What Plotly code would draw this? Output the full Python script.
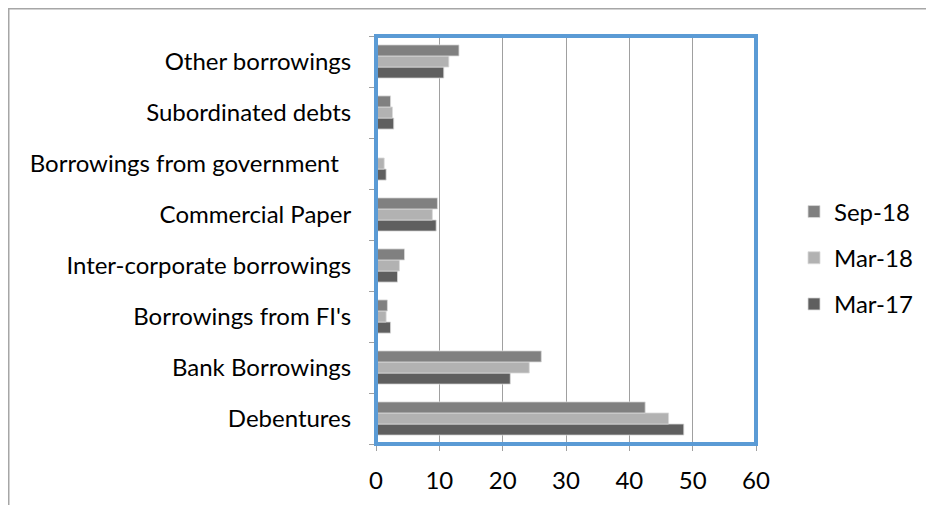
import plotly.graph_objects as go

categories = ["Debentures", "Bank Borrowings", "Borrowings from FI's",
              "Inter-corporate borrowings", "Commercial Paper",
              "Borrowings from government\u00a0\u00a0", "Subordinated debts", "Other borrowings"]
series_names = ["Mar-17", "Mar-18", "Sep-18"]
mar17 = [48.6, 21.2, 2.3, 3.4, 9.5, 1.6, 2.8, 10.7]
mar18 = [46.2, 24.2, 1.6, 3.7, 8.9, 1.3, 2.6, 11.5]
sep18 = [42.5, 26.1, 1.8, 4.5, 9.7, 0.0, 2.3, 13.1]
colors = ["#5F5F5F", "#B2B2B2", "#808080"]
ranks = [3, 2, 1]
x_ticks = [0, 10, 20, 30, 40, 50, 60]

FONT = "Lato"
FS = 24
W, H = 926, 497
L, T, PW, PH = 368, 28, 380, 408
fig = go.Figure()
for name, vals, c, rk in zip(series_names, [mar17, mar18, sep18], colors, ranks):
    fig.add_trace(go.Bar(
        y=categories, x=vals, name=name, orientation="h",
        marker=dict(color=c, line=dict(color="#D9D9D9", width=0.8)),
        legendgroup=name, legendrank=rk,
    ))

px_x = lambda p: (p - L) / PW
px_y = lambda p: 1 - (p - T) / PH

fig.update_layout(
    width=W, height=H,
    margin=dict(l=L, r=W - L - PW, t=T, b=H - T - PH, autoexpand=False),
    paper_bgcolor="white", plot_bgcolor="white",
    barmode="group", bargap=0.35, bargroupgap=0,
    font=dict(family=FONT, size=FS, color="#000000"),
    legend=dict(x=1.1, xanchor="left", y=0.456, yanchor="middle",
                traceorder="grouped", tracegroupgap=12,
                font=dict(size=FS), itemwidth=30, bgcolor="rgba(0,0,0,0)"),
    xaxis=dict(range=[0, 60], tickvals=x_ticks, showgrid=True, gridcolor="#A0A0A0",
               gridwidth=1, zeroline=False, ticks="outside", ticklen=6, tickcolor="#A0A0A0",
               showline=True, linecolor="#A0A0A0", tickfont=dict(size=FS),
               automargin=False, ticklabelstandoff=9),
    yaxis=dict(type="category", categoryorder="array", categoryarray=categories,
               ticks="outside", ticklen=6, tickcolor="#A0A0A0", tickson="boundaries",
               showline=True, linecolor="#A0A0A0", showgrid=False, tickfont=dict(size=FS),
               automargin=False, ticklabelstandoff=19),
    shapes=[
        dict(type="rect", xref="paper", yref="paper", x0=0, x1=1, y0=0, y1=1,
             line=dict(color="#5B9BD5", width=4), layer="above"),
        dict(type="line", xref="paper", yref="paper",
             x0=px_x(0), x1=px_x(W), y0=px_y(0.75), y1=px_y(0.75),
             line=dict(color="#A6A6A6", width=1.5)),
        dict(type="line", xref="paper", yref="paper",
             x0=px_x(0.75), x1=px_x(0.75), y0=px_y(0), y1=px_y(H),
             line=dict(color="#A6A6A6", width=1.5)),
    ],
)
fig.write_html("out.html")
